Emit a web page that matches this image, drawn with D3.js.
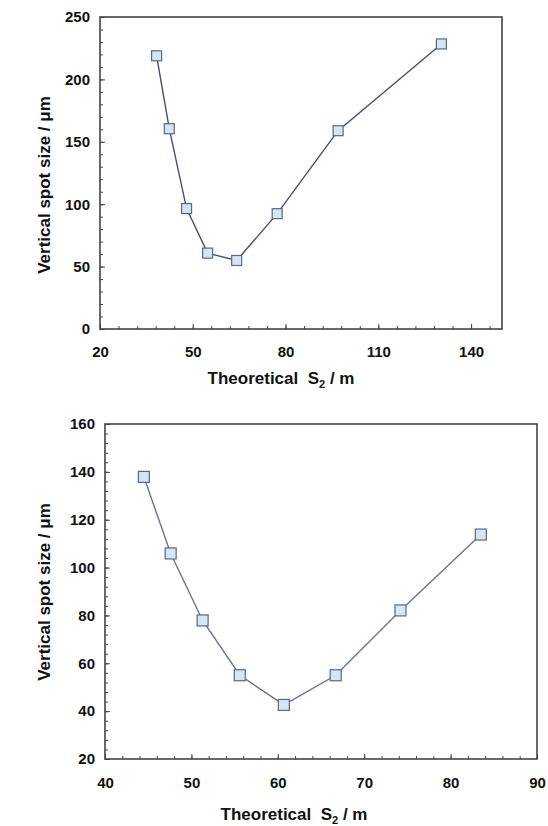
<!DOCTYPE html>
<html>
<head>
<meta charset="utf-8">
<script src="https://cdn.jsdelivr.net/npm/d3@7"></script>
<style>
  body { margin: 0; background: #fff; }
  svg text { font-family: "Liberation Sans", Arial, sans-serif; font-weight: bold; fill: #111; }
</style>
</head>
<body>
<svg id="chart" width="548" height="826"></svg>
<script>
// top panel
var topS2 = [38.3, 42.4, 48.0, 54.8, 64.2, 77.3, 97.0, 130.4];
var topSpot = [218.9, 160.5, 96.5, 60.8, 54.9, 92.4, 158.9, 228.4];
var topXTicks = [20, 50, 80, 110, 140];
var topYTicks = [0, 50, 100, 150, 200, 250];

// bottom panel
var botS2 = [44.5, 47.6, 51.3, 55.6, 60.7, 66.7, 74.2, 83.5];
var botSpot = [137.9, 105.9, 77.9, 55.0, 42.6, 55.0, 82.1, 113.8];
var botXTicks = [40, 50, 60, 70, 80, 90];
var botYTicks = [20, 40, 60, 80, 100, 120, 140, 160];

var yTitle = "Vertical spot size / \u03bcm";

var svg = d3.select("#chart");

function panel(opt) {
    var xScale = d3.scaleLinear().domain(opt.xDomain).range([opt.left, opt.right]);
    var yScale = d3.scaleLinear().domain(opt.yDomain).range([opt.bottom, opt.top]);
    var g = svg.append("g");

    // minor ticks (inward)
    g.append("g")
        .attr("transform", "translate(0," + opt.bottom + ")")
        .call(d3.axisBottom(xScale).tickValues(d3.range(opt.xDomain[0], opt.xDomain[1] + 0.01, opt.xMinor)).tickSize(-3).tickFormat(""))
        .call(function(a) { a.select(".domain").remove(); });
    g.append("g")
        .attr("transform", "translate(" + opt.left + ",0)")
        .call(d3.axisLeft(yScale).tickValues(d3.range(opt.yDomain[0], opt.yDomain[1] + 0.01, opt.yMinor)).tickSize(-3).tickFormat(""))
        .call(function(a) { a.select(".domain").remove(); });

    // major ticks + labels
    var xa = g.append("g")
        .attr("transform", "translate(0," + opt.bottom + ")")
        .call(d3.axisBottom(xScale).tickValues(opt.xTicks).tickSize(-5).tickPadding(opt.xPad));
    xa.select(".domain").remove();
    xa.selectAll("text").attr("font-size", 15);

    var ya = g.append("g")
        .attr("transform", "translate(" + opt.left + ",0)")
        .call(d3.axisLeft(yScale).tickValues(opt.yTicks).tickSize(-5).tickPadding(10));
    ya.select(".domain").remove();
    ya.selectAll("text").attr("font-size", 15);

    g.selectAll(".tick line").attr("stroke", "#444");

    // frame
    g.append("rect")
        .attr("x", opt.left).attr("y", opt.top)
        .attr("width", opt.right - opt.left).attr("height", opt.bottom - opt.top)
        .attr("fill", "none").attr("stroke", "#444").attr("stroke-width", 1.6);

    var pts = opt.xs.map(function(x, i) { return [x, opt.ys[i]]; });

    g.append("path")
        .datum(pts)
        .attr("fill", "none")
        .attr("stroke", opt.lineColor)
        .attr("stroke-width", 1.4)
        .attr("d", d3.line().x(function(d) { return xScale(d[0]); }).y(function(d) { return yScale(d[1]); }));

    g.selectAll(".mk")
        .data(pts)
        .enter().append("rect")
        .attr("x", function(d) { return xScale(d[0]) - opt.mk / 2; })
        .attr("y", function(d) { return yScale(d[1]) - opt.mk / 2; })
        .attr("width", opt.mk).attr("height", opt.mk)
        .attr("fill", "#d5e5f3")
        .attr("stroke", "#5b6780")
        .attr("stroke-width", 1.2);

    // axis titles
    var xt = g.append("text")
        .attr("x", opt.xTitleX).attr("y", opt.xTitleY)
        .attr("text-anchor", "middle")
        .attr("font-size", 17);
    xt.append("tspan").text("Theoretical  S").attr("xml:space", "preserve");
    xt.append("tspan").text("2").attr("font-size", 11).attr("dy", 4);
    xt.append("tspan").text(" / m").attr("dy", -4);

    g.append("text")
        .attr("transform", "translate(" + opt.yTitleX + "," + opt.yTitleY + ") rotate(-90)")
        .attr("text-anchor", "middle")
        .attr("font-size", 17)
        .text(yTitle);
}

panel({
    xs: topS2, ys: topSpot, xTicks: topXTicks, yTicks: topYTicks,
    xDomain: [20, 150], yDomain: [0, 250], xMinor: 6, yMinor: 10,
    left: 100, right: 502, top: 17, bottom: 329, xPad: 17,
    mk: 10, lineColor: "#474e72",
    xTitleX: 281, xTitleY: 384, yTitleX: 50, yTitleY: 185
});

panel({
    xs: botS2, ys: botSpot, xTicks: botXTicks, yTicks: botYTicks,
    xDomain: [40, 90], yDomain: [20, 160], xMinor: 2, yMinor: 4,
    left: 105, right: 537, top: 424, bottom: 759, xPad: 18,
    mk: 11, lineColor: "#6b7290",
    xTitleX: 294, xTitleY: 820, yTitleX: 50, yTitleY: 592
});
</script>
</body>
</html>
